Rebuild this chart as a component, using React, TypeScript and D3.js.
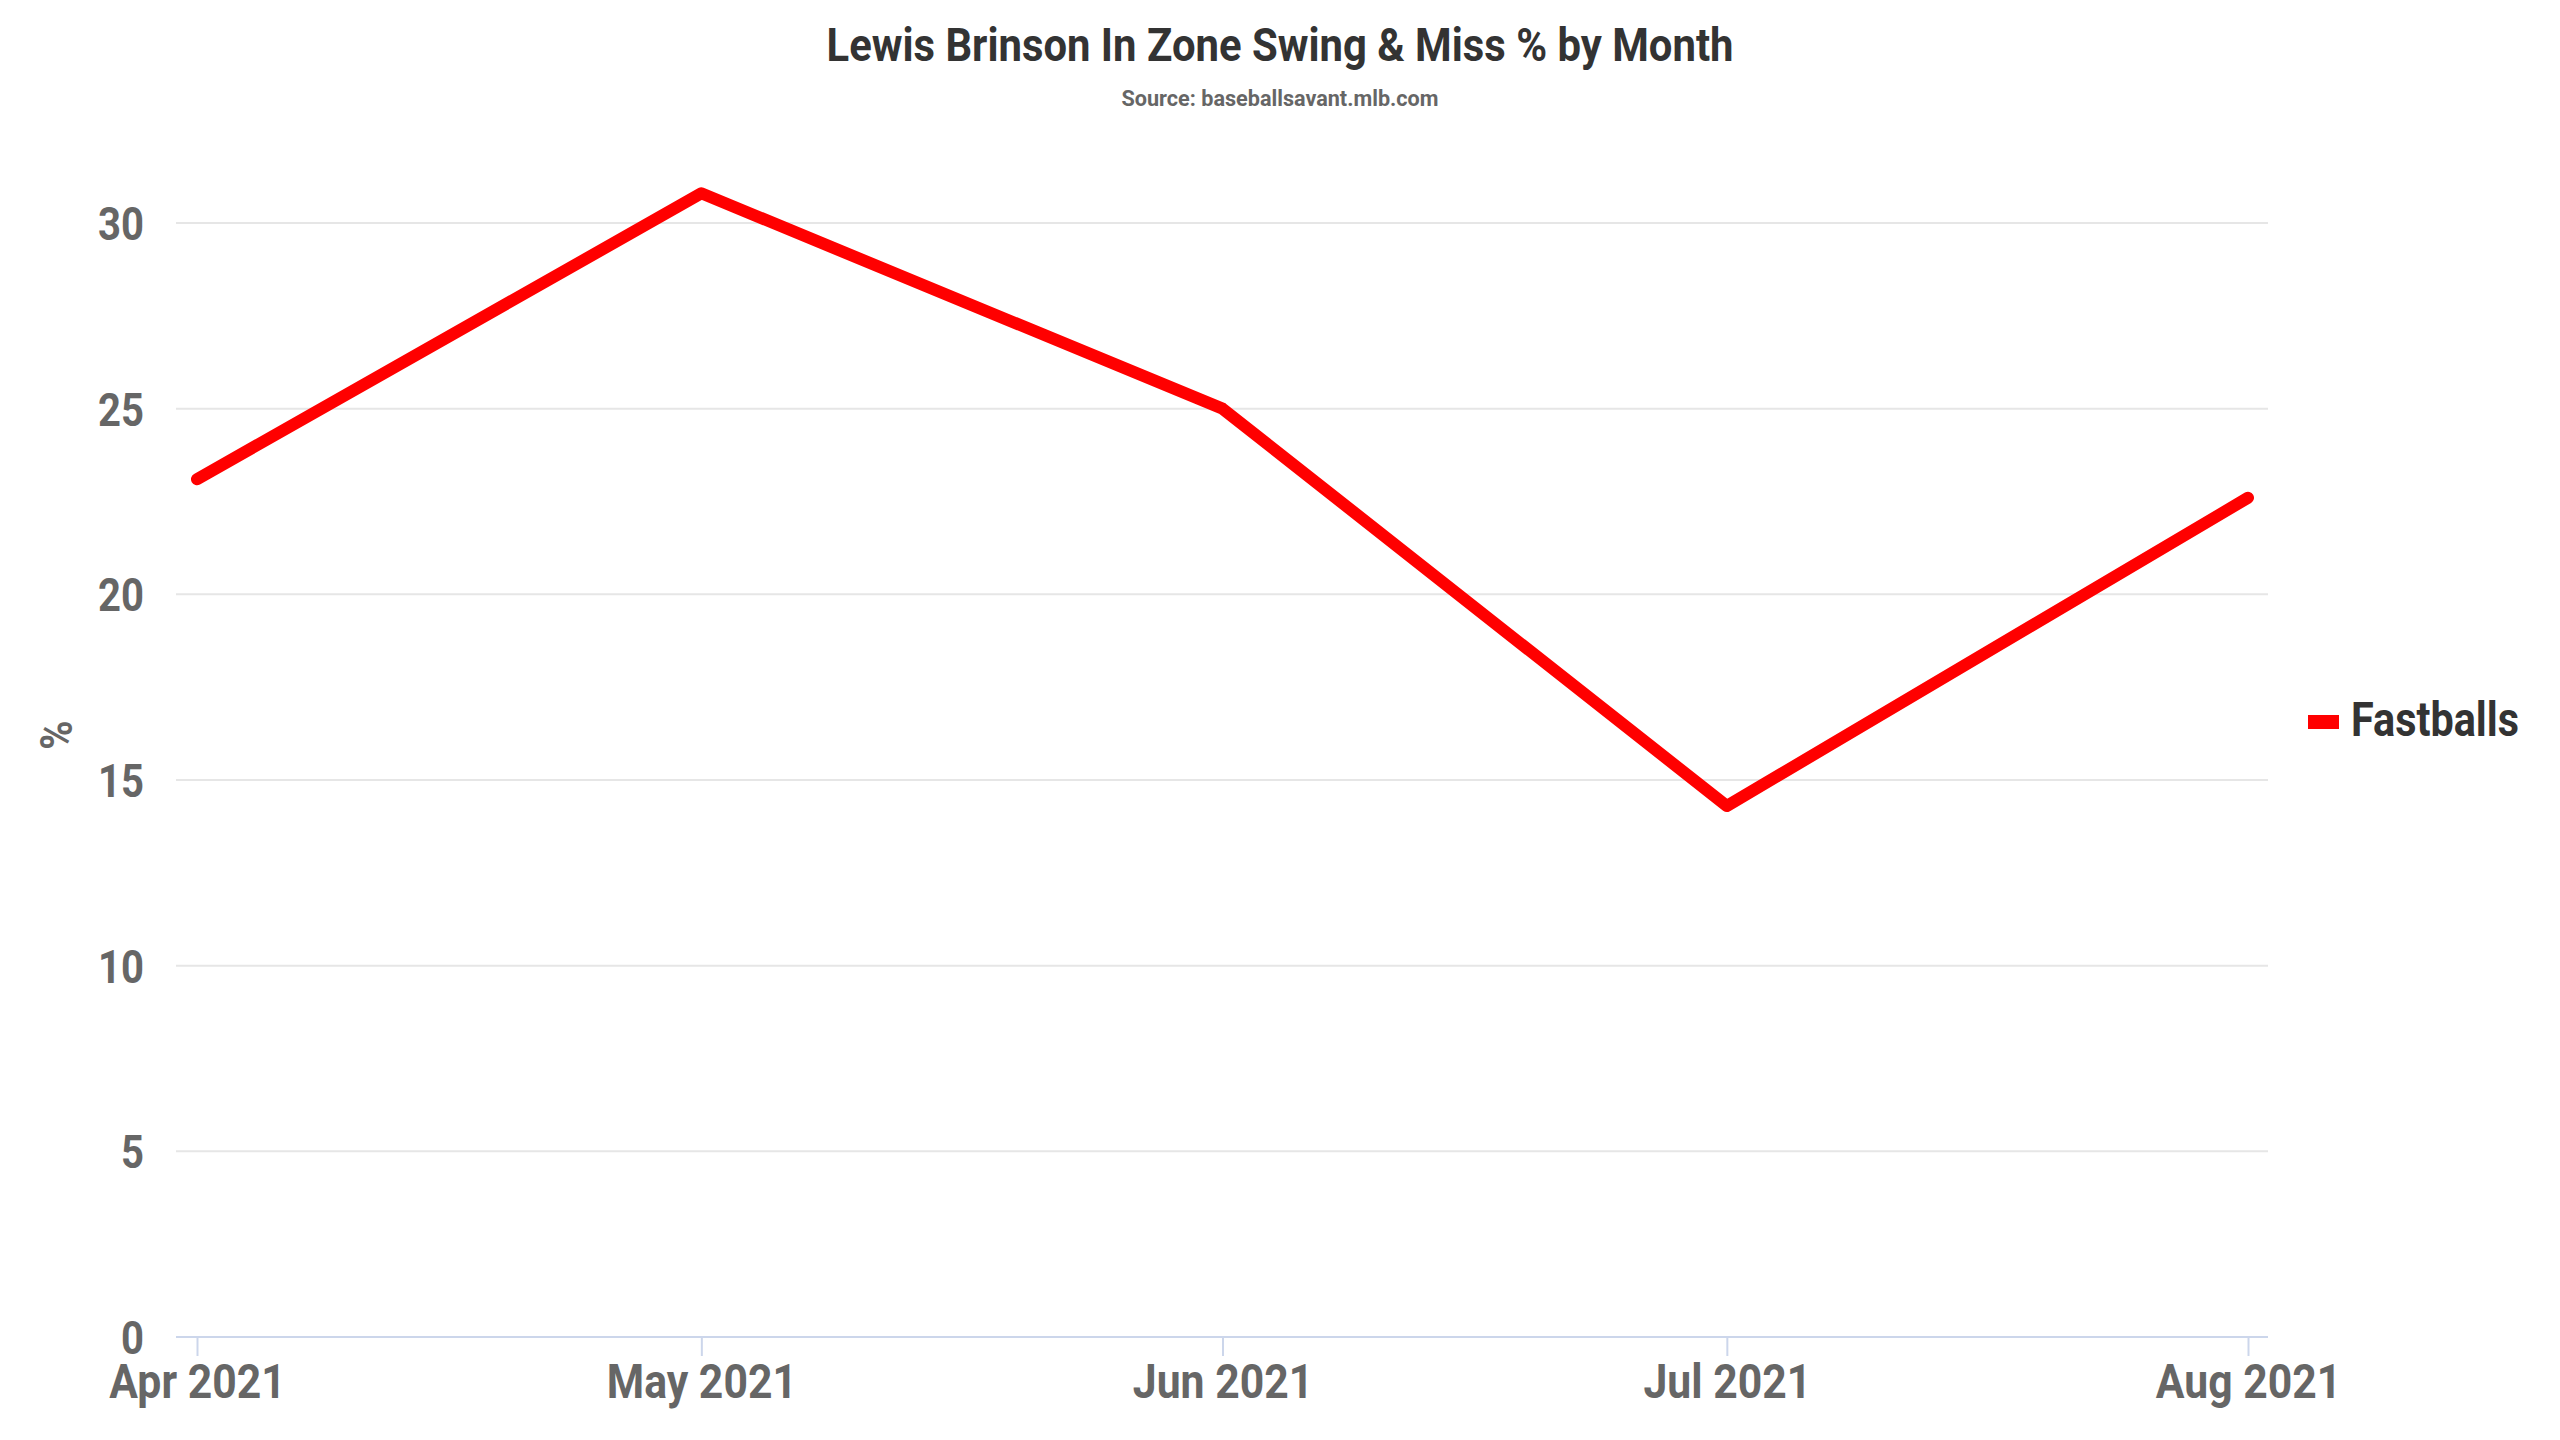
import React, { useEffect, useRef } from 'react';
import * as d3 from 'd3';

// данные графика
const months = ['2021-04-01', '2021-05-01', '2021-06-01', '2021-07-01', '2021-08-01'];
const fastballs = [23.1, 30.8, 25.0, 14.3, 22.6];
const yTicks = [0, 5, 10, 15, 20, 25, 30];
const seriesName = 'Fastballs';
const titleText = 'Lewis Brinson In Zone Swing & Miss % by Month';
const subtitleText = 'Source: baseballsavant.mlb.com';

const FONT = 'Roboto, sans-serif';
const CONDENSE = 0.87;

const width = 2560;
const height = 1440;

// сжать текст по ширине (имитация Roboto Condensed)
const condense = (sel: d3.Selection<any, any, any, any>, target?: number, k = CONDENSE) => {
  sel.each(function () {
    const node = this as SVGTextElement;
    const w = node.getComputedTextLength();
    node.setAttribute('textLength', String(target ?? w * k));
    node.setAttribute('lengthAdjust', 'spacingAndGlyphs');
  });
};

const App: React.FC = () => {
  const svgRef = useRef<SVGSVGElement | null>(null);

  useEffect(() => {
    if (!svgRef.current) return;
    const svg = d3.select(svgRef.current);
    svg.selectAll('*').remove();

    const parse = d3.timeParse('%Y-%m-%d');
    const dates = months.map((m) => parse(m) as Date);

    const x = d3
      .scaleTime()
      .domain([dates[0], dates[dates.length - 1]])
      .range([197, 2248]);
    const y = d3.scaleLinear().domain([0, 30]).range([1337, 223]);

    const plotLeft = 176;
    const plotRight = 2268;

    // заголовки
    const title = svg
      .append('text')
      .attr('x', width / 2)
      .attr('y', 61)
      .attr('text-anchor', 'middle')
      .attr('font-family', FONT)
      .attr('font-weight', 'bold')
      .attr('font-size', 46)
      .attr('fill', '#333333')
      .text(titleText);
    condense(title, 907);

    const subtitle = svg
      .append('text')
      .attr('x', width / 2)
      .attr('y', 106)
      .attr('text-anchor', 'middle')
      .attr('font-family', FONT)
      .attr('font-weight', 'bold')
      .attr('font-size', 22)
      .attr('fill', '#666666')
      .text(subtitleText);
    condense(subtitle, 317);

    // сетка
    const grid = svg.append('g');
    grid
      .selectAll('line')
      .data(yTicks.filter((t) => t > 0))
      .enter()
      .append('line')
      .attr('x1', plotLeft)
      .attr('x2', plotRight)
      .attr('y1', (d) => y(d))
      .attr('y2', (d) => y(d))
      .attr('stroke', '#e6e6e6')
      .attr('stroke-width', 2);

    // ось Y
    const yAxis = d3
      .axisLeft(y)
      .tickValues(yTicks)
      .tickSize(0)
      .tickPadding(0)
      .tickFormat((d) => String(d));
    const yg = svg.append('g').attr('transform', 'translate(144,0)').call(yAxis);
    yg.select('.domain').remove();
    const yLabels = yg
      .selectAll('text')
      .attr('font-family', FONT)
      .attr('font-weight', 'bold')
      .attr('font-size', 46)
      .attr('fill', '#666666')
      .attr('dy', '0.36em');
    condense(yLabels);

    const yTitle = svg
      .append('text')
      .attr('transform', 'translate(72,735) rotate(-90)')
      .attr('text-anchor', 'middle')
      .attr('font-family', FONT)
      .attr('font-weight', 'bold')
      .attr('font-size', 44)
      .attr('fill', '#666666')
      .text('%');
    condense(yTitle, undefined, 0.9);

    // ось X
    const xAxis = d3
      .axisBottom(x)
      .tickValues(dates)
      .tickSize(19)
      .tickPadding(8)
      .tickFormat((d) => d3.timeFormat('%b %Y')(d as Date));
    const xg = svg.append('g').attr('transform', `translate(0,${y(0)})`).call(xAxis);
    xg.select('.domain').remove();
    xg.selectAll('.tick line').attr('stroke', '#ccd6eb').attr('stroke-width', 2);
    const xLabels = xg
      .selectAll('text')
      .attr('font-family', FONT)
      .attr('font-weight', 'bold')
      .attr('font-size', 48)
      .attr('fill', '#666666')
      .attr('dy', '0.71em');
    condense(xLabels, undefined, 0.89);
    svg
      .append('line')
      .attr('x1', plotLeft)
      .attr('x2', plotRight)
      .attr('y1', y(0))
      .attr('y2', y(0))
      .attr('stroke', '#ccd6eb')
      .attr('stroke-width', 2);

    // линия серии
    const line = d3
      .line<number>()
      .x((_, i) => x(dates[i]))
      .y((d) => y(d));
    svg
      .append('path')
      .datum(fastballs)
      .attr('d', line)
      .attr('fill', 'none')
      .attr('stroke', '#ff0000')
      .attr('stroke-width', 12)
      .attr('stroke-linecap', 'round')
      .attr('stroke-linejoin', 'round');

    // легенда
    const legend = svg.append('g').attr('transform', 'translate(2308,722)');
    legend
      .append('line')
      .attr('x1', 0)
      .attr('x2', 31)
      .attr('stroke', '#ff0000')
      .attr('stroke-width', 14);
    const legendText = legend
      .append('text')
      .attr('x', 43)
      .attr('y', 14)
      .attr('font-family', FONT)
      .attr('font-weight', 'bold')
      .attr('font-size', 49)
      .attr('fill', '#333333')
      .text(seriesName);
    condense(legendText, 168);
  }, []);

  return (
    <svg
      ref={svgRef}
      width={width}
      height={height}
      style={{ position: 'absolute', left: 0, top: 0, background: '#ffffff' }}
    />
  );
};

export default App;
